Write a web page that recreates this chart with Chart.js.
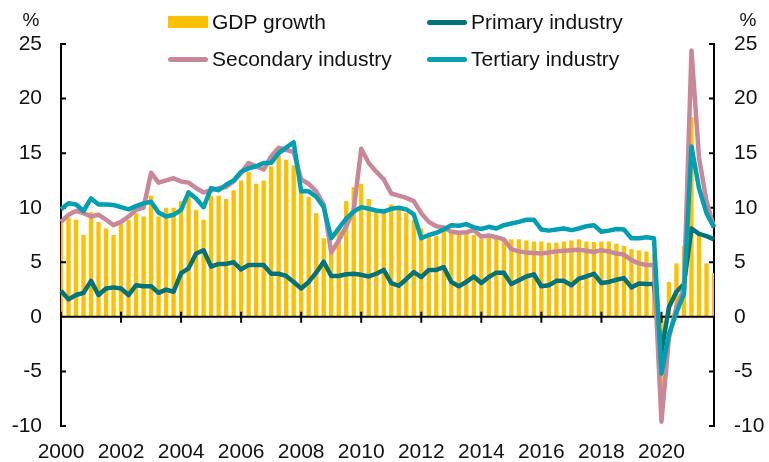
<!DOCTYPE html>
<html>
<head>
<meta charset="utf-8">
<script src="https://cdn.jsdelivr.net/npm/chart.js@4"></script>
<style>
  html, body { margin: 0; padding: 0; background: #fff; }
  #wrap { position: relative; width: 769px; height: 462px; }
  #chart { position: absolute; left: 0; top: 0; }
  #legend { position: absolute; left: 0; top: 0; font: 21px "Liberation Sans", Arial, sans-serif; color: #111; }
  .item { position: absolute; display: flex; align-items: center; white-space: nowrap; height: 26px; }
  .swatch { width: 40px; margin-right: 4px; }
</style>
</head>
<body>
<div id="wrap">
  <canvas id="chart" width="769" height="462"></canvas>
  <div id="legend"></div>
</div>
<script>
const quarters = [];
for (let y = 2000; y <= 2021; y++) {
  for (let q = 1; q <= 4; q++) quarters.push(y + "Q" + q);
}
const tickYears = ["2000", "2002", "2004", "2006", "2008", "2010", "2012", "2014", "2016", "2018", "2020"];

// GDP growth, single quarter y/y, %
const gdpGrowth = [
  8.9, 9.1, 8.9, 7.5,
  9.6, 8.7, 8.1, 7.5,
  8.5, 8.9, 9.5, 9.2,
  11.1, 9.2, 10.0, 10.0,
  10.6, 11.5, 9.8, 8.9,
  11.1, 11.1, 10.8, 11.6,
  12.5, 13.3, 12.2, 12.5,
  13.8, 14.8, 14.4, 13.9,
  11.5, 11.0, 9.5, 7.2,
  6.4, 8.2, 10.6, 11.9,
  12.2, 10.8, 9.7, 9.6,
  10.3, 9.9, 9.5, 8.9,
  8.1, 7.5, 7.4, 8.0,
  7.7, 7.5, 7.7, 7.5,
  7.2, 7.4, 7.2, 7.1,
  7.1, 7.1, 7.0, 6.9,
  6.9, 6.8, 6.8, 6.9,
  7.0, 7.1, 6.9, 6.85,
  6.9, 6.9, 6.7, 6.5,
  6.2, 6.1, 6.0, 5.8,
  -6.8, 3.2, 4.9, 6.5,
  18.3, 7.8, 4.9, 4.0
];

const primary = [
  2.4, 1.6, 2.0, 2.2,
  3.3, 2.0, 2.6, 2.7,
  2.6, 2.0, 2.9, 2.8,
  2.8, 2.2, 2.5, 2.3,
  4.0, 4.45, 5.8, 6.1,
  4.6, 4.85, 4.85, 5.0,
  4.35, 4.75, 4.75, 4.75,
  3.95, 3.95, 3.75, 3.2,
  2.6, 3.2, 4.05, 5.05,
  3.75, 3.75, 3.9, 3.95,
  3.85, 3.7, 3.95, 4.3,
  3.1, 2.85, 3.45, 4.1,
  3.65, 4.3, 4.3, 4.55,
  3.2, 2.8, 3.2, 3.7,
  3.1, 3.65, 4.05, 4.05,
  3.0, 3.35, 3.7, 3.9,
  2.8, 2.9, 3.3, 3.3,
  2.9, 3.5, 3.7, 3.95,
  3.1, 3.2, 3.4, 3.55,
  2.7, 3.05, 3.0, 3.0,
  -3.2, 0.9, 2.3, 3.0,
  8.1, 7.6, 7.4, 7.1
];

const secondary = [
  8.7, 9.35, 9.7, 9.5,
  9.2, 9.35, 8.9, 8.4,
  8.7, 9.2, 9.8, 10.0,
  13.2, 12.3, 12.5, 12.7,
  12.4, 12.3, 11.8, 11.4,
  11.6, 11.8, 11.9, 12.4,
  13.2, 14.1, 13.8, 13.5,
  14.7, 15.5, 15.3, 15.1,
  12.6, 12.2, 11.5, 10.3,
  5.9, 7.0, 8.3, 9.8,
  15.4, 14.1, 13.3, 12.6,
  11.3, 11.1, 10.9, 10.6,
  9.5, 8.7, 8.3, 8.2,
  7.8, 7.7, 7.75, 7.95,
  7.35, 7.45, 7.3, 7.1,
  6.2, 6.0, 5.9, 5.85,
  5.8, 5.9, 6.0, 6.05,
  6.1, 6.15, 6.05, 5.95,
  6.1, 6.0, 5.8, 5.7,
  5.2, 4.9, 4.75, 4.75,
  -9.6, -1.9, 0.9, 2.6,
  24.4, 14.6, 10.6, 8.2
];

const tertiary = [
  9.85, 10.4, 10.3, 9.7,
  10.85, 10.3, 10.3, 10.25,
  10.05, 9.85, 10.15, 10.4,
  10.55, 9.55, 9.2, 9.35,
  9.8, 11.4, 10.85, 10.05,
  11.8, 11.6, 12.1, 12.5,
  13.3, 13.6, 13.8, 14.1,
  14.1, 15.0, 15.5, 16.0,
  11.5, 11.5, 11.0, 10.05,
  7.2, 8.1, 9.0, 9.65,
  10.05, 9.9, 9.75, 9.65,
  9.9, 10.0, 9.85, 9.4,
  7.2, 7.5, 7.7, 8.0,
  8.4, 8.35, 8.5, 8.2,
  8.05, 8.25, 8.1, 8.4,
  8.55, 8.7, 8.9, 8.9,
  8.0, 7.9, 8.0, 8.1,
  7.95, 8.1, 8.3, 8.4,
  7.8, 7.9, 8.05, 8.0,
  7.2, 7.2, 7.3, 7.2,
  -5.2, -1.6, 0.4, 2.1,
  15.6, 11.8, 9.5, 8.2
];

const FONT = '"Liberation Sans", Arial, sans-serif';
const TEXT = "#111";
Chart.defaults.font.family = FONT;
Chart.defaults.font.size = 21;
Chart.defaults.color = TEXT;

// zero line, inward ticks, "%" labels
const axisMarks = {
  id: "axisMarks",
  beforeDatasetDraw(chart, args) {
    if (args.index !== 1) return; // after the bars, before the lines
    const { ctx, chartArea, scales } = chart;
    const y0 = scales.y.getPixelForValue(0);
    ctx.save();
    ctx.strokeStyle = "#000";
    ctx.lineWidth = 2;
    ctx.beginPath();
    ctx.moveTo(chartArea.left, y0);
    ctx.lineTo(chartArea.right, y0);
    scales.x.ticks.forEach((t) => {
      const px = scales.x.getPixelForValue(t.value);
      ctx.moveTo(px, y0 - 5);
      ctx.lineTo(px, y0 + 6);
    });
    scales.y.ticks.forEach((t) => {
      const py = scales.y.getPixelForValue(t.value);
      ctx.moveTo(chartArea.left, py);
      ctx.lineTo(chartArea.left + 5, py);
      ctx.moveTo(chartArea.right - 5, py);
      ctx.lineTo(chartArea.right, py);
    });
    ctx.stroke();
    ctx.restore();
  },
  afterDraw(chart) {
    const { ctx, chartArea } = chart;
    ctx.save();
    ctx.fillStyle = TEXT;
    ctx.font = "19px " + FONT;
    ctx.textAlign = "center";
    ctx.textBaseline = "middle";
    ctx.fillText("%", chartArea.left - 30, 21);
    ctx.fillText("%", chartArea.right + 34, 21);
    ctx.restore();
  },
};

const chart = new Chart(document.getElementById("chart"), {
  type: "bar",
  data: {
    labels: quarters,
    datasets: [
      {
        type: "bar",
        label: "GDP growth",
        data: gdpGrowth,
        backgroundColor: "#FFC000",
        categoryPercentage: 1,
        barPercentage: 0.58,
        order: 4,
      },
      {
        type: "line",
        label: "Primary industry",
        data: primary,
        borderColor: "#00737B",
        borderWidth: 4.5,
        pointRadius: 0,
        borderJoinStyle: "round",
        order: 3,
      },
      {
        type: "line",
        label: "Secondary industry",
        data: secondary,
        borderColor: "#C9879A",
        borderWidth: 4.5,
        pointRadius: 0,
        borderJoinStyle: "round",
        order: 2,
      },
      {
        type: "line",
        label: "Tertiary industry",
        data: tertiary,
        borderColor: "#00A0B2",
        borderWidth: 4.5,
        pointRadius: 0,
        borderJoinStyle: "round",
        order: 1,
      },
    ],
  },
  options: {
    responsive: false,
    animation: false,
    layout: { padding: { top: 44, left: 0, right: 0, bottom: 0 } },
    plugins: {
      legend: { display: false },
      tooltip: { enabled: false },
    },
    scales: {
      x: {
        type: "category",
        offset: false,
        grid: { display: false },
        border: { display: false },
        ticks: {
          autoSkip: false,
          maxRotation: 0,
          padding: 6,
          callback: (v) => quarters[v].slice(0, 4),
        },
        afterBuildTicks: (scale) => {
          scale.ticks = scale.ticks.filter((t) => {
            const q = quarters[t.value];
            return q.endsWith("Q1") && tickYears.includes(q.slice(0, 4));
          });
        },
        afterFit: (scale) => { scale.height = 36; },
      },
      y: {
        position: "left",
        min: -10,
        max: 25,
        ticks: { stepSize: 5, padding: 19 },
        grid: { display: false, drawTicks: false },
        border: { display: true, color: "#000", width: 2 },
        afterFit: (scale) => { scale.width = 61; },
      },
      y2: {
        position: "right",
        min: -10,
        max: 25,
        ticks: { stepSize: 5, padding: 20 },
        grid: { display: false, drawTicks: false },
        border: { display: true, color: "#000", width: 2 },
        afterFit: (scale) => { scale.width = 55; },
      },
    },
  },
  plugins: [axisMarks],
});

// legend laid out in two columns like the original
const legendPos = [
  { left: 168, top: 9 },
  { left: 427, top: 9 },
  { left: 168, top: 46 },
  { left: 427, top: 46 },
];
const legend = document.getElementById("legend");
chart.data.datasets.forEach((ds, i) => {
  const item = document.createElement("div");
  item.className = "item";
  item.style.left = legendPos[i].left + "px";
  item.style.top = legendPos[i].top + "px";
  const sw = document.createElement("span");
  sw.className = "swatch";
  if (ds.type === "bar") {
    sw.style.height = "12px";
    sw.style.background = ds.backgroundColor;
  } else {
    sw.style.height = "5px";
    sw.style.borderRadius = "3px";
    sw.style.background = ds.borderColor;
  }
  const txt = document.createElement("span");
  txt.textContent = ds.label;
  item.appendChild(sw);
  item.appendChild(txt);
  legend.appendChild(item);
});
</script>
</body>
</html>
